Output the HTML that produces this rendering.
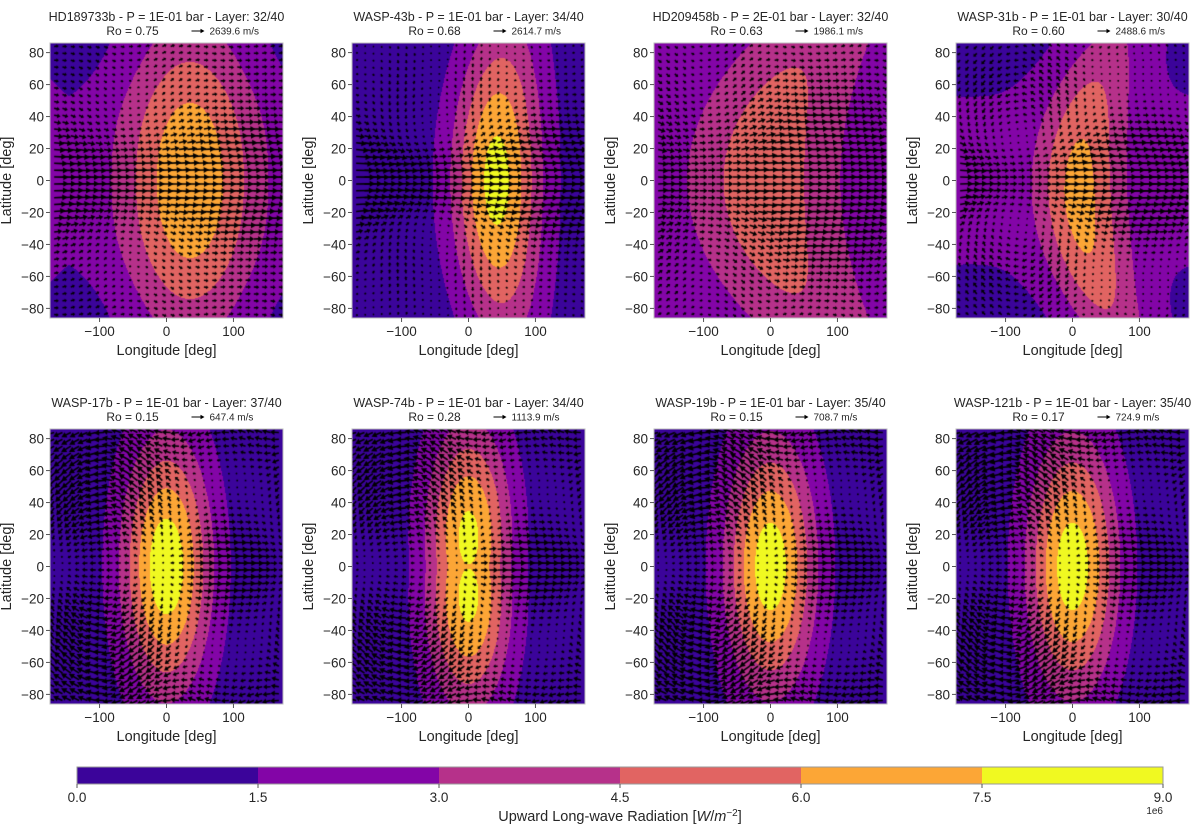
<!DOCTYPE html>
<html><head><meta charset="utf-8">
<style>
html,body{margin:0;padding:0;background:#fff;}
body{width:1200px;height:826px;position:relative;overflow:hidden;font-family:"Liberation Sans","DejaVu Sans",sans-serif;color:#262626;}
canvas{position:absolute;}
svg{position:absolute;left:0;top:0;}
</style></head>
<body>
<canvas id="cv" width="1200" height="826" style="left:0;top:0"></canvas>
<svg id="sv" width="1200" height="826"></svg>
<script>
// ---- data ----
const planetNames = ["HD189733b","WASP-43b","HD209458b","WASP-31b","WASP-17b","WASP-74b","WASP-19b","WASP-121b"];
const pressures = ["1E-01","1E-01","2E-01","1E-01","1E-01","1E-01","1E-01","1E-01"];
const layers = ["32/40","34/40","32/40","30/40","37/40","34/40","35/40","35/40"];
const rossby = ["0.75","0.68","0.63","0.60","0.15","0.28","0.15","0.17"];
const keySpeeds = ["2639.6","2614.7","1986.1","2488.6","647.4","1113.9","708.7","724.9"];
// radiation field descriptors (units of 1e6 W/m^2, degrees)
const hotLon = [35, 42, -10, 10, 0, 0, 0, 0];
const hotLat = [0, 0, 0, -10, 0, 0, 0, 0];
const peakVal = [7.3, 8.1, 5.6, 6.6, 8.6, 7.9, 8.4, 8.4];
const bgVal = [1.7, 0.7, 2.1, 1.7, 0.6, 0.6, 0.6, 0.6];
const poleDrop = [0.5, 0.2, 0, 0.3, 0, 0, 0, 0];
const widthLon = [97, 64, 98, 62, 65, 62, 66, 66];
const widthLat = [97, 95, 115, 100, 78, 70, 78, 78];
const bendLon = [0, 10, 75, 50, 0, 0, 0, 0];
const splitLat = [0, 0, 0, 0, 0, 18, 0, 0];
// wind descriptors (fraction of key speed)
const jetAmp = [0.9, 1.1, 0.8, 0.9, 0.2, 0.3, 0.2, 0.2];
const jetWidth = [35, 28, 50, 30, 20, 20, 20, 20];
const hiLatU = [0.3, 0.1, 0.2, -0.2, -0.6, -0.6, -0.7, -0.7];
const divAmp = [0.3, 0.5, 0.4, 0.6, 0.9, 0.8, 0.9, 0.9];
// colorbar
const cbLevels = [0, 1.5, 3.0, 4.5, 6.0, 7.5, 9.0];
const cbTickLabels = ["0.0","1.5","3.0","4.5","6.0","7.5","9.0"];
const bandColors = ["#3b049a","#8305a7","#b6318a","#e16462","#fca636","#f0f921"];
const xTicks = [-100, 0, 100];
const yTicks = [-80,-60,-40,-20,0,20,40,60,80];

const LON0=-174, LON1=174, LAT0=-86, LAT1=86, PW=233, PH=275;
const ctx = document.getElementById('cv').getContext('2d');
const sv = document.getElementById('sv');
const NS="http://www.w3.org/2000/svg";
function mk(tag, attrs, parent){const e=document.createElementNS(NS,tag);for(const k in attrs)e.setAttribute(k,attrs[k]);(parent||sv).appendChild(e);return e;}
function hex(c){return [parseInt(c.slice(1,3),16),parseInt(c.slice(3,5),16),parseInt(c.slice(5,7),16)];}
const bandRGB = bandColors.map(hex);
function band(v){for(let i=cbLevels.length-2;i>=0;i--){if(v>=cbLevels[i])return i;}return 0;}
const D=Math.PI/180;
function field(p,lon,lat){
  const lc = hotLon[p] + bendLon[p]*Math.pow(lat/90,2);
  let dl = lon-lc; while(dl>180)dl-=360; while(dl<-180)dl+=360;
  const s=splitLat[p];
  function g(la){const dla=lat-la-hotLat[p];const r=Math.pow(dl/widthLon[p],2)+Math.pow(dla/widthLat[p],2);return Math.exp(-r);}
  const gg = s>0 ? Math.max(g(s),g(-s)) : g(0);
  const b = bgVal[p]*(1-poleDrop[p]*Math.pow(Math.sin(lat*D),4));
  return b + (peakVal[p]-b)*gg;
}
function wind(p,lon,lat){
  let dl=(lon-hotLon[p])*D;
  const cl=Math.cos(lat*D), sl=Math.sin(lat*D);
  let u = jetAmp[p]*Math.exp(-Math.pow(lat/jetWidth[p],2)) + hiLatU[p]*sl*sl + divAmp[p]*Math.sin(dl)*cl*0.7;
  let v = divAmp[p]*Math.cos(dl)*sl*cl*0.9 - divAmp[p]*0.3*Math.sin(2*dl)*sl;
  return [u,v];
}
for(let p=0;p<8;p++){
  const col=p%4,row=Math.floor(p/4);
  const L=50+302*col, T=43+386*row;
  const xs=lon=>L+(lon-LON0)/(LON1-LON0)*PW;
  const ys=lat=>T+(LAT1-lat)/(LAT1-LAT0)*PH;
  const img=ctx.createImageData(PW,PH);
  for(let j=0;j<PH;j++){const lat=LAT1-(j+0.5)/PH*(LAT1-LAT0);
    for(let i=0;i<PW;i++){const lon=LON0+(i+0.5)/PW*(LON1-LON0);
      const c=bandRGB[band(field(p,lon,lat))];const k=(j*PW+i)*4;
      img.data[k]=c[0];img.data[k+1]=c[1];img.data[k+2]=c[2];img.data[k+3]=255;}}
  ctx.putImageData(img,L,T);
  // arrows
  ctx.save();ctx.beginPath();ctx.rect(L,T,PW,PH);ctx.clip();
  ctx.fillStyle="#000";
  const nC=28,nR=40, scale=15;
  for(let r=0;r<nR;r++){const lat=LAT1-(r+0.5)/nR*(LAT1-LAT0);
    for(let c=0;c<nC;c++){const lon=LON0+(c+0.5)/nC*(LON1-LON0);
      const w=wind(p,lon,lat);drawArrow(xs(lon),ys(lat),w[0]*scale,-w[1]*scale);}}
  ctx.restore();
  const g=mk('g',{});
  mk('rect',{x:L,y:T,width:PW,height:PH,fill:'none',stroke:'#bdbdbd','stroke-width':1,},g);
  const cx=L+PW/2;
  const t=mk('text',{x:cx,y:T-22,'text-anchor':'middle','font-size':12.5,fill:'#262626',},g);
  t.textContent=planetNames[p]+" - P = "+pressures[p]+" bar - Layer: "+layers[p];
  const ro=mk('text',{x:cx-34,y:T-8,'text-anchor':'middle','font-size':12,fill:'#262626',},g);
  ro.textContent="Ro = "+rossby[p];
  mk('path',{d:`M${cx+25} ${T-12.5}h9v-1.8l4 2.3l-4 2.3v-1.8h-9z`,fill:'#000',},g);
  const kt=mk('text',{x:cx+43,y:T-8.5,'font-size':10,fill:'#262626',},g);
  kt.textContent=keySpeeds[p]+" m/s";
  xTicks.forEach(v=>{const x=xs(v);
    mk('line',{x1:x,x2:x,y1:T+PH,y2:T+PH+4,stroke:'#555','stroke-width':1,},g);
    const tt=mk('text',{x:x,y:T+PH+18,'text-anchor':'middle','font-size':13.5,fill:'#262626',},g);
    tt.textContent=v<0?"\u2212"+(-v):String(v);});
  yTicks.forEach(v=>{const y=ys(v);
    mk('line',{x1:L-4,x2:L,y1:y,y2:y,stroke:'#555','stroke-width':1,},g);
    const tt=mk('text',{x:L-6,y:y+5,'text-anchor':'end','font-size':13.5,fill:'#262626',},g);
    tt.textContent=v<0?"\u2212"+(-v):String(v);});
  const xl=mk('text',{x:cx,y:T+PH+37,'text-anchor':'middle','font-size':14.5,fill:'#262626',},g);
  xl.textContent="Longitude [deg]";
  const yx=L-39, yy=T+PH/2;
  const yl=mk('text',{x:yx,y:yy,'text-anchor':'middle','font-size':14.5,fill:'#262626',transform:`rotate(-90 ${yx} ${yy})`,},g);
  yl.textContent="Latitude [deg]";
}
function drawArrow(x,y,dx,dy){
  const len=Math.hypot(dx,dy);
  if(len<1.5){ctx.fillRect(x-0.8,y-0.8,1.6,1.6);return;}
  const ux=dx/len,uy=dy/len,nx=-uy,ny=ux;
  const hl=Math.min(5.5,len*0.5), hw=Math.min(3,0.8+len*0.25), sw=0.8;
  const bx=x+ux*(len-hl), by=y+uy*(len-hl);
  ctx.beginPath();
  ctx.moveTo(x+nx*sw,y+ny*sw);ctx.lineTo(bx+nx*sw,by+ny*sw);ctx.lineTo(bx+nx*hw,by+ny*hw);
  ctx.lineTo(x+dx,y+dy);ctx.lineTo(bx-nx*hw,by-ny*hw);ctx.lineTo(bx-nx*sw,by-ny*sw);ctx.lineTo(x-nx*sw,y-ny*sw);
  ctx.closePath();ctx.fill();
}
// colorbar
(function(){
  const CL=77,CR=1163,CT=767,CH=17;
  const g=mk('g',{});
  const cx=v=>CL+(v-cbLevels[0])/(cbLevels[cbLevels.length-1]-cbLevels[0])*(CR-CL);
  for(let i=0;i<bandColors.length;i++){
    mk('rect',{x:cx(cbLevels[i]),y:CT,width:cx(cbLevels[i+1])-cx(cbLevels[i]),height:CH,fill:bandColors[i],},g);
  }
  mk('rect',{x:CL,y:CT,width:CR-CL,height:CH,fill:'none',stroke:'#999','stroke-width':1,},g);
  cbLevels.forEach((v,i)=>{const x=cx(v);
    mk('line',{x1:x,x2:x,y1:CT+CH,y2:CT+CH+4,stroke:'#555',},g);
    const t=mk('text',{x:x,y:CT+CH+18,'text-anchor':'middle','font-size':13.5,fill:'#262626',},g);
    t.textContent=cbTickLabels[i];});
  const e=mk('text',{x:CR,y:CT+CH+30,'text-anchor':'end','font-size':10,fill:'#262626',},g);
  e.textContent="1e6";
  const lab=mk('text',{x:(CL+CR)/2,y:CT+CH+37,'text-anchor':'middle','font-size':14.5,fill:'#262626',},g);
  lab.innerHTML='Upward Long-wave Radiation [<tspan font-style="italic">W</tspan>/<tspan font-style="italic">m</tspan><tspan baseline-shift="super" font-size="10">\u22122</tspan>]';
})();
</script>
</body></html>
